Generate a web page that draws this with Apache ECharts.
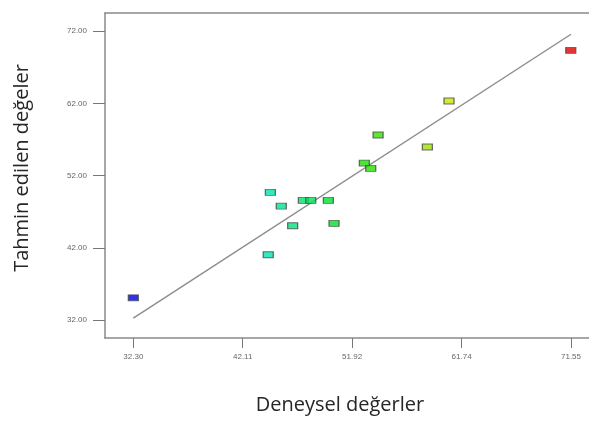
<!DOCTYPE html>
<html>
<head>
<meta charset="utf-8">
<script src="https://cdn.jsdelivr.net/npm/echarts@6/dist/echarts.min.js"></script>
<style>
html,body{margin:0;padding:0;background:#fff;}
#chart{width:589px;height:421px;}
</style>
</head>
<body>
<div id="chart"></div>
<script>
// Experimental (actual) values
var actualValues = [32.30, 71.53, 60.61, 58.67, 54.25, 53.02, 53.59, 44.59, 45.57, 47.55, 48.21, 49.79, 46.59, 50.30, 44.40];
// Predicted values
var predictedValues = [35.11, 69.33, 62.32, 55.96, 57.62, 53.74, 53.01, 49.69, 47.80, 48.58, 48.58, 48.58, 45.07, 45.40, 41.06];
// Tick values
var xTicks = [32.30, 42.11, 51.92, 61.74, 71.55];
var yTicks = [32.00, 42.00, 52.00, 62.00, 72.00];
// Identity line end points
var lineX = [32.30, 71.55];
var lineY = [32.30, 71.55];

var points = actualValues.map(function (v, i) { return [v, predictedValues[i]]; });
var linePts = lineX.map(function (v, i) { return [v, lineY[i]]; });

var chart = echarts.init(document.getElementById('chart'));
var tickLabelStyle = {
  color: '#666', fontSize: 8, fontFamily: 'Liberation Sans, Arial, sans-serif',
  formatter: function (v) { return Number(v).toFixed(2); }
};
var frameLine = { show: true, lineStyle: { color: '#8a8a8a', width: 1.5 } };
chart.setOption({
  animation: false,
  backgroundColor: '#fff',
  grid: {
    left: 105, top: 13, width: 500, height: 325,
    outerBoundsMode: 'none', containLabel: false, show: false
  },
  xAxis: [{
    type: 'value', min: 29.76, max: 74.60,
    splitLine: { show: false },
    axisLine: frameLine,
    axisTick: { show: true, customValues: xTicks, length: 10, lineStyle: { color: '#777', width: 1 } },
    axisLabel: Object.assign({ customValues: xTicks, margin: 15 }, tickLabelStyle)
  }, {
    type: 'value', position: 'top', min: 29.76, max: 74.60,
    splitLine: { show: false }, axisLine: frameLine,
    axisTick: { show: false }, axisLabel: { show: false }
  }],
  yAxis: {
    type: 'value', min: 29.55, max: 74.49,
    splitLine: { show: false },
    axisLine: frameLine,
    axisTick: { show: true, customValues: yTicks, length: 12, lineStyle: { color: '#777', width: 1 } },
    axisLabel: Object.assign({ customValues: yTicks, margin: 18 }, tickLabelStyle)
  },
  visualMap: {
    show: false, type: 'continuous', dimension: 0, seriesIndex: 1,
    min: 32.30, max: 71.55,
    inRange: { color: ['#0000e0', '#00e6e6', '#00e000', '#e6e600', '#e00000'] }
  },
  series: [
    {
      type: 'line', data: linePts, symbol: 'none', silent: true,
      lineStyle: { color: '#8c8c8c', width: 1.4 }, z: 1
    },
    {
      type: 'scatter', data: points, symbol: 'rect', symbolSize: [10, 6],
      itemStyle: { borderColor: '#4a4a4a', borderWidth: 1 }, z: 2
    }
  ],
  graphic: [
    {
      type: 'text', x: 22, y: 168, rotation: Math.PI / 2,
      style: {
        text: 'Tahmin edilen değeler', x: 0, y: 0, align: 'center', verticalAlign: 'middle',
        fill: '#262626', font: '20px "Open Sans", sans-serif'
      }
    },
    {
      type: 'text', x: 340, y: 405,
      style: {
        text: 'Deneysel değerler', x: 0, y: 0, align: 'center', verticalAlign: 'middle',
        fill: '#262626', font: '20px "Open Sans", sans-serif'
      }
    }
  ]
});
</script>
</body>
</html>
